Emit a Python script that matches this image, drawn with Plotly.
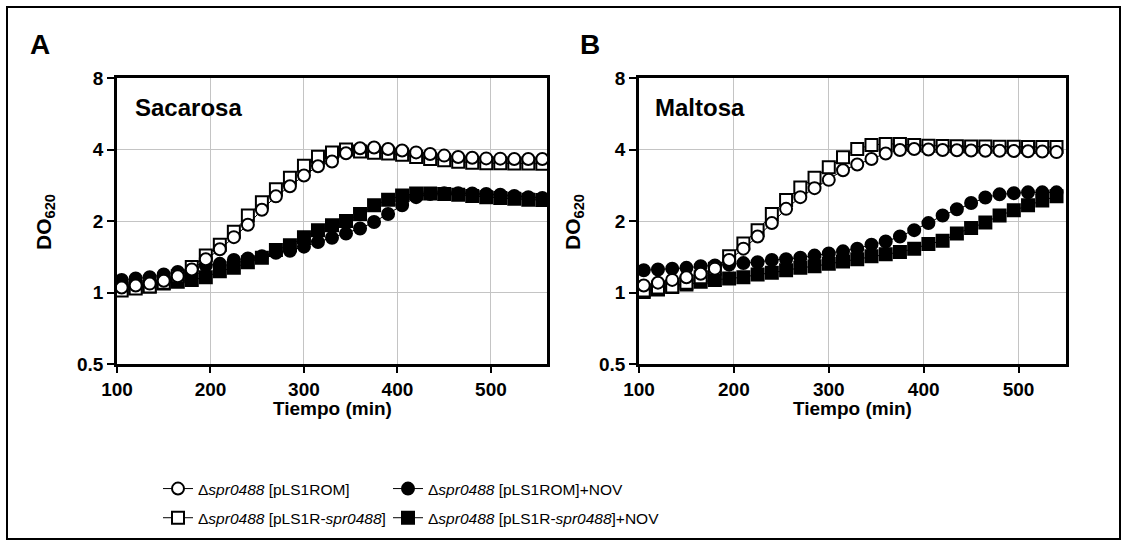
import plotly.graph_objects as go

# ---------------- data ----------------
time_a = [105, 120, 135, 150, 165, 180, 195, 210, 225, 240, 255, 270, 285, 300, 315, 330,
          345, 360, 375, 390, 405, 420, 435, 450, 465, 480, 495, 510, 525, 540, 555]
time_b = [105, 120, 135, 150, 165, 180, 195, 210, 225, 240, 255, 270, 285, 300, 315, 330,
          345, 360, 375, 390, 405, 420, 435, 450, 465, 480, 495, 510, 525, 540]

# Panel A - Sacarosa
a_rom = [1.05, 1.07, 1.09, 1.12, 1.17, 1.25, 1.38, 1.52, 1.71, 1.93, 2.23, 2.54, 2.80, 3.11, 3.40, 3.56,
         3.86, 4.05, 4.08, 4.02, 3.96, 3.89, 3.83, 3.77, 3.72, 3.69, 3.67, 3.66, 3.65, 3.65, 3.65]
a_rom_err = [0.02, 0.02, 0.02, 0.02, 0.03, 0.03, 0.04, 0.05, 0.07, 0.09, 0.11, 0.13, 0.13, 0.15, 0.14, 0.12,
             0.08, 0.05, 0.04, 0.04, 0.03, 0.03, 0.03, 0.03, 0.03, 0.03, 0.03, 0.03, 0.03, 0.03, 0.03]
a_r = [1.02, 1.04, 1.06, 1.10, 1.17, 1.28, 1.43, 1.59, 1.80, 2.11, 2.40, 2.72, 3.04, 3.42, 3.73, 3.89,
       4.00, 3.92, 3.88, 3.85, 3.80, 3.72, 3.65, 3.60, 3.55, 3.52, 3.50, 3.50, 3.49, 3.49, 3.48]
a_r_err = [0.02, 0.02, 0.02, 0.02, 0.03, 0.04, 0.05, 0.06, 0.07, 0.08, 0.09, 0.10, 0.10, 0.09, 0.08, 0.06,
           0.05, 0.04, 0.04, 0.04, 0.03, 0.03, 0.03, 0.03, 0.03, 0.03, 0.03, 0.03, 0.03, 0.03, 0.03]
a_rom_nov = [1.13, 1.145, 1.16, 1.19, 1.22, 1.26, 1.30, 1.32, 1.37, 1.39, 1.42, 1.47, 1.50, 1.56, 1.63, 1.70,
             1.77, 1.86, 1.98, 2.14, 2.33, 2.52, 2.60, 2.62, 2.62, 2.61, 2.60, 2.58, 2.55, 2.52, 2.50]
a_rom_nov_err = [0.02, 0.02, 0.02, 0.02, 0.02, 0.02, 0.02, 0.02, 0.02, 0.02, 0.02, 0.02, 0.02, 0.03, 0.03, 0.03,
                 0.03, 0.04, 0.05, 0.07, 0.08, 0.06, 0.04, 0.03, 0.03, 0.03, 0.03, 0.03, 0.03, 0.03, 0.03]
a_r_nov = [1.04, 1.055, 1.06, 1.09, 1.11, 1.13, 1.16, 1.23, 1.27, 1.34, 1.40, 1.51, 1.58, 1.71, 1.83, 1.92,
           2.00, 2.14, 2.33, 2.46, 2.56, 2.61, 2.61, 2.60, 2.58, 2.55, 2.52, 2.50, 2.48, 2.46, 2.45]
a_r_nov_err = [0.02, 0.02, 0.02, 0.02, 0.02, 0.02, 0.02, 0.03, 0.03, 0.03, 0.03, 0.04, 0.04, 0.04, 0.04, 0.04,
               0.04, 0.04, 0.04, 0.04, 0.04, 0.03, 0.03, 0.03, 0.03, 0.03, 0.03, 0.03, 0.03, 0.03, 0.03]

# Panel B - Maltosa
b_rom = [1.07, 1.10, 1.13, 1.16, 1.20, 1.26, 1.37, 1.53, 1.72, 1.96, 2.25, 2.52, 2.75, 2.98, 3.27, 3.46,
         3.65, 3.85, 3.98, 4.02, 4.00, 3.98, 3.97, 3.96, 3.95, 3.95, 3.94, 3.93, 3.92, 3.90]
b_rom_err = [0.02, 0.02, 0.02, 0.02, 0.02, 0.03, 0.03, 0.04, 0.06, 0.08, 0.10, 0.10, 0.12, 0.14, 0.14, 0.12,
             0.08, 0.06, 0.05, 0.05, 0.05, 0.05, 0.05, 0.05, 0.05, 0.05, 0.05, 0.05, 0.05, 0.05]
b_r = [1.02, 1.05, 1.06, 1.10, 1.16, 1.26, 1.42, 1.61, 1.83, 2.14, 2.45, 2.77, 3.04, 3.37, 3.71, 4.02,
       4.18, 4.22, 4.22, 4.18, 4.15, 4.14, 4.13, 4.12, 4.12, 4.11, 4.11, 4.10, 4.10, 4.10]
b_r_err = [0.02, 0.02, 0.02, 0.02, 0.02, 0.03, 0.03, 0.04, 0.04, 0.05, 0.05, 0.05, 0.05, 0.05, 0.05, 0.05,
           0.05, 0.05, 0.05, 0.05, 0.05, 0.05, 0.05, 0.05, 0.05, 0.05, 0.05, 0.05, 0.05, 0.05]
b_rom_nov = [1.24, 1.25, 1.26, 1.27, 1.29, 1.30, 1.31, 1.33, 1.34, 1.37, 1.38, 1.40, 1.43, 1.46, 1.49, 1.53,
             1.59, 1.64, 1.72, 1.83, 1.96, 2.11, 2.24, 2.38, 2.51, 2.59, 2.62, 2.64, 2.64, 2.64]
b_rom_nov_err = [0.02, 0.02, 0.02, 0.02, 0.02, 0.02, 0.02, 0.02, 0.02, 0.02, 0.02, 0.02, 0.02, 0.02, 0.02, 0.02,
                 0.02, 0.02, 0.03, 0.03, 0.03, 0.03, 0.03, 0.03, 0.03, 0.03, 0.03, 0.03, 0.03, 0.03]
b_r_nov = [1.006, 1.03, 1.055, 1.08, 1.11, 1.13, 1.145, 1.16, 1.19, 1.21, 1.24, 1.27, 1.29, 1.32, 1.35, 1.38,
           1.42, 1.45, 1.48, 1.53, 1.60, 1.65, 1.77, 1.87, 1.97, 2.11, 2.22, 2.33, 2.44, 2.54]
b_r_nov_err = [0.01, 0.01, 0.01, 0.01, 0.01, 0.01, 0.01, 0.01, 0.02, 0.02, 0.02, 0.02, 0.02, 0.02, 0.02, 0.02,
               0.02, 0.02, 0.02, 0.03, 0.06, 0.07, 0.08, 0.07, 0.06, 0.05, 0.05, 0.04, 0.04, 0.04]

x_ticks = [100, 200, 300, 400, 500]
y_ticks = [0.5, 1, 2, 4, 8]
y_ticktext = ["0.5", "1", "2", "4", "8"]

names = {
    "rom": "Δ<i>spr0488</i> [pLS1ROM]",
    "r": "Δ<i>spr0488</i> [pLS1R-<i>spr0488</i>]",
    "rom_nov": "Δ<i>spr0488</i> [pLS1ROM]+NOV",
    "r_nov": "Δ<i>spr0488</i> [pLS1R-<i>spr0488</i>]+NOV",
}

FONT = "Liberation Sans, Arial, Helvetica, sans-serif"
W, H = 1127, 546

fig = go.Figure()

def add(x, y, err, key, symbol, fill, xa, ya, show, legend, rank):
    fig.add_trace(go.Scatter(
        x=x, y=y, mode="lines+markers", name=names[key],
        xaxis=xa, yaxis=ya, legendgroup=key, showlegend=show, legend=legend,
        legendrank=rank, cliponaxis=False,
        line=dict(color="black", width=1),
        marker=dict(symbol=symbol, size=12, color=fill, line=dict(color="black", width=2)),
        error_y=dict(type="data", array=err, visible=True, color="black", thickness=1, width=3),
    ))

for xa, ya, t, d, show in [
    ("x", "y", time_a, (a_rom, a_rom_err, a_r, a_r_err, a_rom_nov, a_rom_nov_err, a_r_nov, a_r_nov_err), True),
    ("x2", "y2", time_b, (b_rom, b_rom_err, b_r, b_r_err, b_rom_nov, b_rom_nov_err, b_r_nov, b_r_nov_err), False),
]:
    add(t, d[6], d[7], "r_nov", "square", "black", xa, ya, show, "legend2", 2)
    add(t, d[4], d[5], "rom_nov", "circle", "black", xa, ya, show, "legend2", 1)
    add(t, d[2], d[3], "r", "square", "white", xa, ya, show, "legend", 2)
    add(t, d[0], d[1], "rom", "circle", "white", xa, ya, show, "legend", 1)

def px_x(p):
    return p / W

def px_y(p):
    return 1 - p / H

tickfont = dict(family=FONT, size=19, color="black", weight="bold")

def xaxis(domain, rng, anchor):
    return dict(domain=domain, range=rng, anchor=anchor, tickvals=x_ticks,
                showline=True, linewidth=2.5, linecolor="black", mirror=True,
                ticks="outside", ticklen=6, tickwidth=2, tickcolor="black",
                showgrid=True, gridcolor="#c4c4c4", gridwidth=1, zeroline=False,
                tickfont=tickfont, automargin=False)

def yaxis(anchor):
    return dict(domain=[px_y(364), px_y(78)], type="log", range=[-0.30103, 0.90309],
                anchor=anchor, tickvals=y_ticks, ticktext=y_ticktext,
                showline=True, linewidth=2.5, linecolor="black", mirror=True,
                ticks="outside", ticklen=7, tickwidth=2, tickcolor="black",
                showgrid=True, gridcolor="#c4c4c4", gridwidth=1, zeroline=False,
                tickfont=tickfont, automargin=False)

legend_common = dict(
    yanchor="top", xanchor="left", font=dict(family=FONT, size=15.5, color="black"),
    bgcolor="rgba(0,0,0,0)", itemwidth=30, tracegroupgap=6, traceorder="grouped",
    orientation="v",
)

bold = lambda s: dict(family=FONT, size=s, color="black", weight="bold")

fig.update_layout(
    width=W, height=H, margin=dict(l=0, r=0, t=0, b=0),
    paper_bgcolor="white", plot_bgcolor="white",
    xaxis=xaxis([px_x(117), px_x(547)], [100, 560], "y"),
    yaxis=yaxis("x"),
    xaxis2=xaxis([px_x(639), px_x(1066)], [100, 550], "y2"),
    yaxis2=yaxis("x2"),
    legend=dict(x=px_x(158), y=px_y(472), **legend_common),
    legend2=dict(x=px_x(388), y=px_y(472), **legend_common),
    shapes=[dict(type="rect", xref="paper", yref="paper",
                 x0=px_x(7), x1=px_x(1120), y0=px_y(539), y1=px_y(7),
                 line=dict(color="black", width=2))],
    annotations=[
        dict(text="A", x=px_x(40), y=px_y(44), xref="paper", yref="paper", showarrow=False,
             font=bold(28), xanchor="center", yanchor="middle"),
        dict(text="B", x=px_x(590), y=px_y(44), xref="paper", yref="paper", showarrow=False,
             font=bold(28), xanchor="center", yanchor="middle"),
        dict(text="Sacarosa", x=px_x(133), y=px_y(108), xref="paper", yref="paper", showarrow=False,
             font=bold(24), xanchor="left", yanchor="middle"),
        dict(text="Maltosa", x=px_x(653), y=px_y(108), xref="paper", yref="paper", showarrow=False,
             font=bold(24), xanchor="left", yanchor="middle"),
        dict(text="Tiempo (min)", x=px_x(332), y=px_y(408), xref="paper", yref="paper", showarrow=False,
             font=bold(19), xanchor="center", yanchor="middle"),
        dict(text="Tiempo (min)", x=px_x(852), y=px_y(408), xref="paper", yref="paper", showarrow=False,
             font=bold(19), xanchor="center", yanchor="middle"),
        dict(text="DO<sub>620</sub>", x=px_x(45), y=px_y(222), xref="paper", yref="paper", showarrow=False,
             font=bold(21), textangle=-90, xanchor="center", yanchor="middle"),
        dict(text="DO<sub>620</sub>", x=px_x(574), y=px_y(222), xref="paper", yref="paper", showarrow=False,
             font=bold(21), textangle=-90, xanchor="center", yanchor="middle"),
    ],
)

fig.write_html("out.html", config={"displayModeBar": False},
               post_script="document.body.style.margin='0px';document.body.style.overflow='hidden';")
